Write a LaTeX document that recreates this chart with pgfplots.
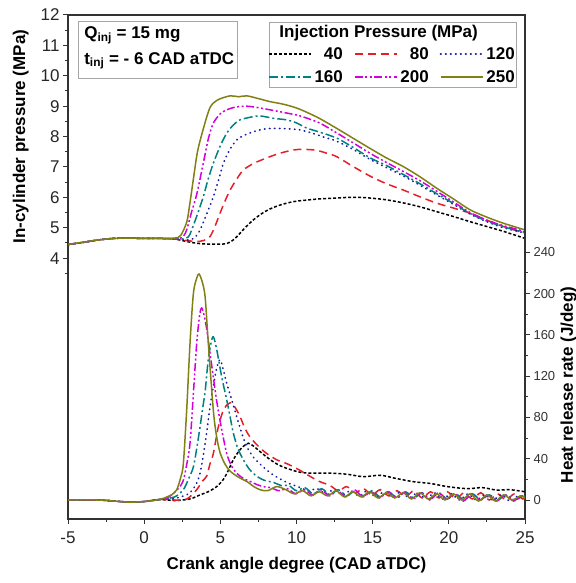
\documentclass[border=0pt]{standalone}
\usepackage{fontspec}
\setmainfont{Liberation Sans}
\usepackage{pgfplots}
\pgfplotsset{compat=1.18}

\definecolor{c40}{RGB}{0,0,0}
\definecolor{c80}{RGB}{230,30,40}
\definecolor{c120}{RGB}{25,25,170}
\definecolor{c160}{RGB}{0,128,128}
\definecolor{c200}{RGB}{210,0,220}
\definecolor{c250}{RGB}{128,128,20}
\definecolor{frame}{RGB}{50,50,50}

\tikzset{
  s40/.style={draw=c40, line width=1.5pt, dash pattern=on 3pt off 2pt},
  s80/.style={draw=c80, line width=1.5pt, dash pattern=on 8pt off 5pt},
  s120/.style={draw=c120, line width=1.7pt, line cap=round, dash pattern=on 0.5pt off 4.5pt},
  s160/.style={draw=c160, line width=1.5pt, dash pattern=on 9pt off 3pt on 2pt off 3pt},
  s200/.style={draw=c200, line width=1.5pt, dash pattern=on 8pt off 2.5pt on 2pt off 2.5pt on 2pt off 2.5pt},
  s250/.style={draw=c250, line width=1.5pt, solid},
}

\begin{document}
\begin{tikzpicture}
\begin{axis}[
    name=ax,
    scale only axis,
    width=457pt, height=504pt,
    xmin=-5, xmax=25, ymin=-4.58, ymax=12,
    xtick={-5,0,...,25}, minor xtick={-2.5,2.5,...,22.5},
    ytick={4,...,12}, minor ytick={3.5,4.5,...,11.5},
    tick pos=left, tick align=outside,
    major tick length=5pt, minor tick length=3pt,
    axis line style={line width=1.3pt, frame},
    every tick/.style={line width=1pt, frame},
    tick label style={font=\fontsize{17}{19}\selectfont, black!85},
    xticklabel style={yshift=-4pt},
    /pgf/number format/assume math mode=true,
    xlabel={Crank angle degree (CAD aTDC)},
    ylabel={In-cylinder pressure (MPa)},
    label style={font=\fontsize{17}{19}\selectfont\bfseries},
    xlabel style={at={(rel axis cs:0.5,0)}, anchor=north, yshift=-35pt},
    ylabel style={at={(ticklabel cs:0.7587,5pt)}},
    legend columns=3,
    legend cell align=right,
    legend style={at={(rel axis cs:0.9847,0.9425)}, anchor=north east, draw=none, fill=none,
      inner sep=0pt, row sep=4pt,
      nodes={inner sep=3pt},
      font=\fontsize{17}{19}\selectfont\bfseries,
      /tikz/every even column/.append style={column sep=8pt}},
    legend image code/.code={\draw[#1] (0pt,0pt) -- (42pt,0pt);},
]
% pressure, 40 MPa
\addplot[s40, smooth, tension=0.5] coordinates {
(-5,4.45) (-4,4.52) (-3,4.6) (-2,4.65) (-1,4.66) (0,4.65) (1,4.65) (2,4.63) (2.6,4.57) (3.2,4.51) (3.88,4.47) (4.6,4.46) (5.42,4.48) (5.9,4.62) (6.29,4.82) (6.7,5.04) (7.17,5.26) (7.7,5.46) (8.26,5.62) (9.0,5.76) (9.8,5.86) (10.45,5.9) (11.5,5.95) (12.64,5.98) (13.4,6.0) (14.2,6.0) (15.0,5.97) (15.9,5.92) (17.0,5.82) (18.1,5.69) (19.2,5.53) (20.3,5.37) (21.4,5.2) (22.5,5.04) (23.6,4.88) (25,4.65)
};
\addlegendentry{40}
% pressure, 80 MPa
\addplot[s80, smooth, tension=0.5] coordinates {
(-5,4.45) (-4,4.52) (-3,4.6) (-2,4.65) (-1,4.66) (0,4.65) (1,4.65) (2,4.63) (2.8,4.58) (3.4,4.55) (3.9,4.58) (4.32,4.71) (4.65,5.05) (4.98,5.48) (5.3,5.87) (5.64,6.24) (6.05,6.58) (6.51,6.9) (7.2,7.12) (8.05,7.3) (8.9,7.45) (9.8,7.56) (10.45,7.58) (11.3,7.55) (12.0,7.45) (12.64,7.34) (13.7,7.02) (14.83,6.7) (15.9,6.45) (17.02,6.24) (18.1,6.02) (19.21,5.81) (20.3,5.65) (21.4,5.48) (22.5,5.25) (23.6,5.04) (25,4.82)
};
\addlegendentry{80}
% pressure, 120 MPa
\addplot[s120, smooth, tension=0.5] coordinates {
(-5,4.45) (-4,4.52) (-3,4.6) (-2,4.65) (-1,4.66) (0,4.65) (1,4.65) (2,4.64) (3.0,4.6) (3.4,4.72) (3.67,4.93) (4.1,5.45) (4.54,6.02) (4.9,6.6) (5.2,7.12) (5.6,7.55) (6.07,7.89) (6.6,8.05) (7.17,8.16) (7.8,8.24) (8.48,8.27) (9.3,8.26) (10.23,8.22) (11.1,8.1) (12.0,7.95) (12.64,7.85) (13.7,7.58) (14.83,7.25) (15.9,6.98) (17.02,6.7) (18.1,6.4) (19.21,6.08) (20.3,5.77) (21.4,5.45) (22.5,5.2) (23.58,5.0) (25,4.83)
};
\addlegendentry{120}
% pressure, 160 MPa
\addplot[s160, smooth, tension=0.5] coordinates {
(-5,4.45) (-4,4.52) (-3,4.6) (-2,4.65) (-1,4.66) (0,4.65) (1,4.65) (2,4.64) (2.5,4.63) (2.9,4.7) (3.12,4.93) (3.5,5.45) (3.88,6.02) (4.2,6.6) (4.54,7.12) (5.0,7.7) (5.42,8.11) (5.85,8.38) (6.29,8.55) (7.0,8.64) (7.6,8.68) (8.5,8.6) (9.36,8.55) (10.0,8.45) (10.67,8.28) (11.5,8.15) (12.64,7.95) (13.7,7.65) (14.83,7.3) (15.9,7.05) (17.02,6.75) (18.1,6.45) (19.21,6.12) (20.3,5.8) (21.4,5.47) (22.5,5.22) (23.58,5.03) (25,4.85)
};
\addlegendentry{160}
% pressure, 200 MPa
\addplot[s200, smooth, tension=0.5] coordinates {
(-5,4.45) (-4,4.52) (-3,4.6) (-2,4.65) (-1,4.66) (0,4.65) (1,4.65) (2,4.64) (2.5,4.68) (2.79,4.93) (3.1,5.5) (3.45,6.1) (3.88,7.12) (4.2,7.9) (4.54,8.44) (5.0,8.75) (5.42,8.88) (6.0,8.97) (6.73,9.0) (7.5,8.95) (8.48,8.86) (9.3,8.78) (10.23,8.68) (11.5,8.45) (12.64,8.12) (13.7,7.8) (14.83,7.45) (15.9,7.15) (17.02,6.85) (18.1,6.55) (19.21,6.2) (20.3,5.85) (21.4,5.5) (22.5,5.25) (23.58,5.07) (25,4.88)
};
\addlegendentry{200}
% pressure, 250 MPa
\addplot[s250, smooth, tension=0.5] coordinates {
(-5,4.45) (-4,4.53) (-3,4.6) (-2,4.65) (-1,4.66) (0,4.65) (1,4.65) (2,4.66) (2.4,4.75) (2.8,5.2) (3.0,5.8) (3.23,6.6) (3.5,7.5) (3.88,8.25) (4.32,8.95) (4.8,9.2) (5.64,9.34) (6.2,9.31) (6.73,9.34) (7.5,9.25) (8.26,9.15) (9.0,9.08) (9.77,8.98) (10.45,8.85) (11.5,8.6) (12.64,8.27) (13.7,7.95) (14.83,7.61) (15.9,7.3) (17.02,7.01) (18.1,6.68) (19.21,6.30) (20.3,5.95) (21.4,5.59) (22.5,5.35) (23.58,5.15) (25,4.93)
};
\addlegendentry{250}

% legend frame and title
\draw[gray!70, line width=0.8pt] (rel axis cs:0.440,0.857) rectangle (rel axis cs:0.982,0.986);
\node[anchor=west, font=\fontsize{17}{19}\selectfont\bfseries] at (rel axis cs:0.455,0.964) {Injection Pressure (MPa)};
% condition box
\draw[gray!70, line width=0.8pt] (rel axis cs:0.022,0.875) rectangle (rel axis cs:0.370,0.988);
\node[anchor=west, font=\fontsize{17}{19}\selectfont\bfseries] at (rel axis cs:0.028,0.960) {Q\textsubscript{inj} = 15 mg};
\node[anchor=west, font=\fontsize{17}{19}\selectfont\bfseries] at (rel axis cs:0.028,0.909) {t\textsubscript{inj} = - 6 CAD aTDC};
\end{axis}

\begin{axis}[
    scale only axis,
    width=457pt, height=504pt,
    xmin=-5, xmax=25, ymin=-18.4, ymax=470,
    axis x line=none, axis y line*=right,
    ytick={0,40,...,240}, minor ytick={20,60,...,220},
    tick align=outside,
    major tick length=5pt, minor tick length=3pt,
    axis line style={line width=1.3pt, frame},
    every tick/.style={line width=1pt, frame},
    tick label style={font=\fontsize{13}{15}\selectfont, black!80},
    /pgf/number format/assume math mode=true,
    ylabel={Heat release rate (J/deg)},
    label style={font=\fontsize{17}{19}\selectfont\bfseries},
    ylabel style={at={(rel axis cs:1.07,0.266)}, anchor=north},
]
% heat release rate, 40 MPa
\addplot[s40, smooth, tension=0.5] coordinates {
(-5,0) (-3,0) (-2,-1) (-1,-2) (0,-1.5) (1,0.5) (2,-0.5) (3,1) (3.67,5) (4.2,8) (4.76,13) (5.2,20) (5.5,28) (5.85,39) (6.2,47) (6.51,52) (6.84,55) (7.2,52) (7.6,47) (8.1,41) (8.7,35) (9.3,31) (10.2,27) (11,26) (12.2,26) (13.3,25) (14.4,22.6) (15.5,24) (16.5,21) (17.7,17.7) (18.8,16) (19.9,13) (21.2,11) (22.2,12) (23.1,9.7) (24,10) (25,8)
};
% heat release rate, 80 MPa
\addplot[s80, smooth, tension=0.5] coordinates {
(-5,0) (-3,0) (-2,-1) (-1,-2) (0,-1.5) (1,0.5) (2,0) (2.8,1) (3.45,10) (3.8,18) (4.1,23) (4.32,35) (4.54,45) (4.87,71) (5.2,87) (5.5,93) (5.75,94) (6.0,89) (6.29,81) (6.6,70) (6.95,61) (7.5,52) (8.05,45) (8.7,39) (9.4,35) (10.2,29) (11,22) (11.5,18) (12.2,14) (12.75,9) (13.3,13) (13.85,7) (14.4,11) (14.95,5) (15.5,10) (16.05,4) (16.6,9) (17.15,3) (17.7,9) (18.25,2) (18.8,8) (19.35,2) (19.9,8) (20.45,1) (21.0,7) (21.55,1) (22.1,7) (22.65,0) (23.2,6) (23.75,0) (24.3,6) (24.85,1) (25,2)
};
% heat release rate, 120 MPa
\addplot[s120, smooth, tension=0.5] coordinates {
(-5,0) (-3,0) (-2,-1) (-1,-2) (0,-1.5) (1,0.5) (2,1.5) (2.6,4) (3.0,7) (3.4,15) (3.67,26) (3.9,45) (4.1,65) (4.3,88) (4.54,110) (4.75,127) (4.98,136) (5.2,126) (5.42,113) (5.75,97) (6.07,81) (6.4,65) (6.73,52) (7.2,41) (7.82,32) (8.4,25) (9.1,19) (9.7,15) (10.25,12) (10.8,9) (11.35,11) (11.9,6) (12.45,10) (13.0,5) (13.55,9) (14.1,4) (14.65,9) (15.2,3) (15.75,8) (16.3,3) (16.85,8) (17.4,2) (17.95,7) (18.5,1) (19.05,7) (19.6,1) (20.15,6) (20.7,0) (21.25,6) (21.8,0) (22.35,5) (22.9,0) (23.45,5) (24.0,-1) (24.55,4) (25,1)
};
% heat release rate, 160 MPa
\addplot[s160, smooth, tension=0.5] coordinates {
(-5,0) (-3,0) (-2,-1) (-1,-2) (0,-1.5) (1,0.5) (2,3) (2.57,10) (2.9,20) (3.23,32) (3.45,50) (3.67,71) (3.85,90) (4.0,105) (4.2,135) (4.4,153) (4.55,158) (4.76,146) (4.98,128) (5.15,115) (5.42,97) (5.65,80) (5.85,65) (6.15,50) (6.51,39) (6.9,30) (7.39,23) (7.9,19) (8.5,17) (9.0,14) (9.5,14) (10.0,9) (10.55,12) (11.1,6) (11.65,11) (12.2,5) (12.75,10) (13.3,4) (13.85,9) (14.4,4) (14.95,9) (15.5,3) (16.05,8) (16.6,2) (17.15,8) (17.7,2) (18.25,7) (18.8,1) (19.35,7) (19.9,1) (20.45,6) (21.0,0) (21.55,6) (22.1,0) (22.65,5) (23.2,0) (23.75,5) (24.3,0) (24.85,4) (25,3)
};
% heat release rate, 200 MPa
\addplot[s200, smooth, tension=0.5] coordinates {
(-5,0) (-3,0) (-2,-1) (-1,-2) (0,-1.5) (1,0.5) (1.5,2) (1.92,6.5) (2.3,12) (2.57,19) (2.8,35) (3.01,55) (3.23,103) (3.45,152) (3.65,180) (3.78,186) (3.95,178) (4.1,166) (4.3,145) (4.54,119) (4.75,97) (4.98,77) (5.2,60) (5.42,45) (5.7,34) (6.07,26) (6.5,21) (6.95,18) (7.4,15) (7.8,13) (8.3,12) (8.85,9) (9.4,11) (9.95,6) (10.5,10) (11.05,5) (11.6,10) (12.15,4) (12.7,9) (13.25,3) (13.8,10) (14.35,3) (14.9,8) (15.45,2) (16.0,8) (16.55,2) (17.1,7) (17.65,1) (18.2,7) (18.75,0) (19.3,7) (19.85,1) (20.4,6) (20.95,-1) (21.5,6) (22.05,0) (22.6,5) (23.15,-1) (23.7,5) (24.25,-1) (24.8,4) (25,3)
};
% heat release rate, 250 MPa
\addplot[s250, smooth, tension=0.5] coordinates {
(-5,0) (-3,0) (-2,-1) (-1,-2) (0,-1.5) (1,0.5) (1.5,3) (1.8,5) (2.14,10) (2.4,22) (2.57,35) (2.79,87) (3.01,152) (3.23,200) (3.45,215) (3.6,219) (3.8,212) (4.0,197) (4.21,152) (4.54,87) (4.75,62) (4.98,46) (5.3,35) (5.64,28) (6.2,22) (6.73,18) (7.2,13) (7.6,10) (8.1,9) (8.7,13) (9.3,10) (9.85,6) (10.4,9) (10.95,4) (11.5,8) (12.05,4) (12.6,9) (13.15,3) (13.7,8) (14.25,3) (14.8,8) (15.35,2) (15.9,7) (16.45,2) (17.0,7) (17.55,1) (18.1,7) (18.65,1) (19.2,6) (19.75,0) (20.3,6) (20.85,0) (21.4,6) (21.95,-1) (22.5,5) (23.05,-1) (23.6,5) (24.15,0) (24.7,4) (25,2)
};
\end{axis}
\pgfresetboundingbox
\path (ax.south west) ++(-68pt,-64pt) rectangle ++(575pt,583pt);
\end{tikzpicture}
\end{document}
